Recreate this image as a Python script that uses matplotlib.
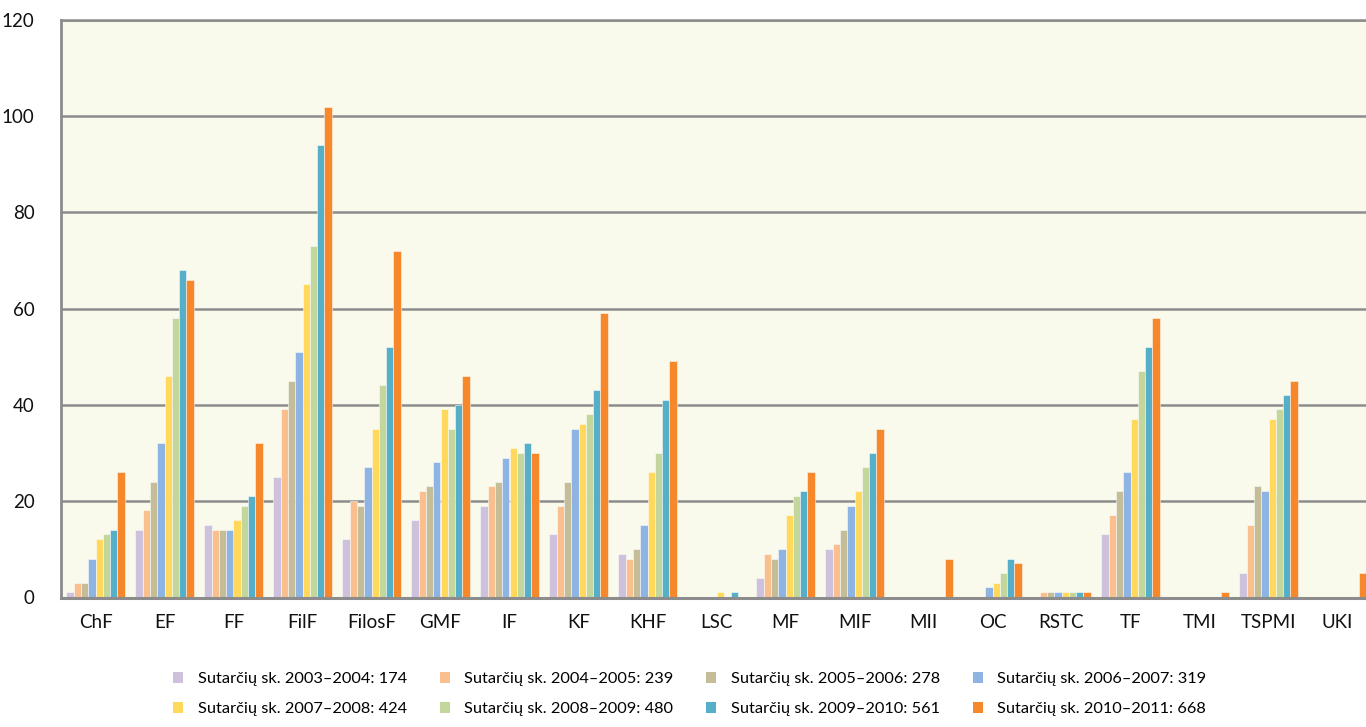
import numpy as np
import matplotlib.pyplot as plt
from matplotlib.patches import Patch

# Faculties / units
categories = ["ChF", "EF", "FF", "FilF", "FilosF", "GMF", "IF", "KF", "KHF", "LSC",
              "MF", "MIF", "MII", "OC", "RSTC", "TF", "TMI", "TSPMI", "UKI"]

# contracts per academic year
s_2003 = [1, 14, 15, 25, 12, 16, 19, 13, 9, 0, 4, 10, 0, 0, 0, 13, 0, 5, 0]
s_2004 = [3, 18, 14, 39, 20, 22, 23, 19, 8, 0, 9, 11, 0, 0, 1, 17, 0, 15, 0]
s_2005 = [3, 24, 14, 45, 19, 23, 24, 24, 10, 0, 8, 14, 0, 0, 1, 22, 0, 23, 0]
s_2006 = [8, 32, 14, 51, 27, 28, 29, 35, 15, 0, 10, 19, 0, 2, 1, 26, 0, 22, 0]
s_2007 = [12, 46, 16, 65, 35, 39, 31, 36, 26, 1, 17, 22, 0, 3, 1, 37, 0, 37, 0]
s_2008 = [13, 58, 19, 73, 44, 35, 30, 38, 30, 0, 21, 27, 0, 5, 1, 47, 0, 39, 0]
s_2009 = [14, 68, 21, 94, 52, 40, 32, 43, 41, 1, 22, 30, 0, 8, 1, 52, 0, 42, 0]
s_2010 = [26, 66, 32, 102, 72, 46, 30, 59, 49, 0, 26, 35, 8, 7, 1, 58, 1, 45, 5]

series = [s_2003, s_2004, s_2005, s_2006, s_2007, s_2008, s_2009, s_2010]
labels = [
    "Sutarčių sk. 2003–2004: 174",
    "Sutarčių sk. 2004–2005: 239",
    "Sutarčių sk. 2005–2006: 278",
    "Sutarčių sk. 2006–2007: 319",
    "Sutarčių sk. 2007–2008: 424",
    "Sutarčių sk. 2008–2009: 480",
    "Sutarčių sk. 2009–2010: 561",
    "Sutarčių sk. 2010–2011: 668",
]
colors = ["#CDC1DC", "#F9BF8F", "#C4BD97", "#8EB4E3",
          "#FFD85C", "#C3D69B", "#56AFC9", "#F6882B"]

plt.rcParams['font.family'] = ['Lato', 'DejaVu Sans']

fig = plt.figure(figsize=(13.66, 7.27), dpi=100)
ax = fig.add_axes([61 / 1366, 130 / 727, 1311 / 1366, 577 / 727])
ax.set_facecolor("#F9F9EC")

x = np.arange(len(categories))
n = len(series)
group = 0.846
w = group / n
for i, (vals, col, lab) in enumerate(zip(series, colors, labels)):
    lw = [0.6 if v else 0 for v in vals]
    ax.bar(x - group / 2 + w * (i + 0.5), vals, width=w, color=col,
           edgecolor=(1, 1, 1, 0.6), linewidth=lw, label=lab, zorder=2)

ax.set_xlim(-0.5, len(categories) - 0.5)
ax.set_ylim(0, 120)
ax.set_yticks(range(0, 121, 20))
ax.set_xticks(x)
ax.set_xticklabels(categories)
ax.yaxis.grid(True, color="#8C8C8C", linewidth=1.8, zorder=1)
ax.set_axisbelow(True)
ax.tick_params(axis="both", length=0, labelsize=13.5, colors="#111111")
ax.tick_params(axis="y", pad=19)
ax.tick_params(axis="x", pad=11)
for side in ["left", "bottom", "top"]:
    ax.spines[side].set_color("#8C8C8C")
    ax.spines[side].set_zorder(4)
ax.spines["left"].set_linewidth(2)
ax.spines["bottom"].set_linewidth(2.2)
ax.spines["bottom"].set_position(("outward", 1))
ax.spines["top"].set_linewidth(1.8)
ax.spines["right"].set_visible(False)

# gridline at 0 sits under the bars; the bottom spine serves as baseline
ax.yaxis.get_major_ticks()[0].gridline.set_visible(False)

order = [0, 4, 1, 5, 2, 6, 3, 7]
handles = [Patch(facecolor=colors[k], edgecolor="none") for k in order]
fig.legend(handles, [labels[k] for k in order], ncol=4, loc="center",
           bbox_to_anchor=(0.505, 0.045), frameon=False, fontsize=11.8,
           handlelength=0.6, handleheight=0.6, handletextpad=0.9,
           columnspacing=2.0, labelspacing=1.0)

fig.savefig("out.png", dpi=100)
